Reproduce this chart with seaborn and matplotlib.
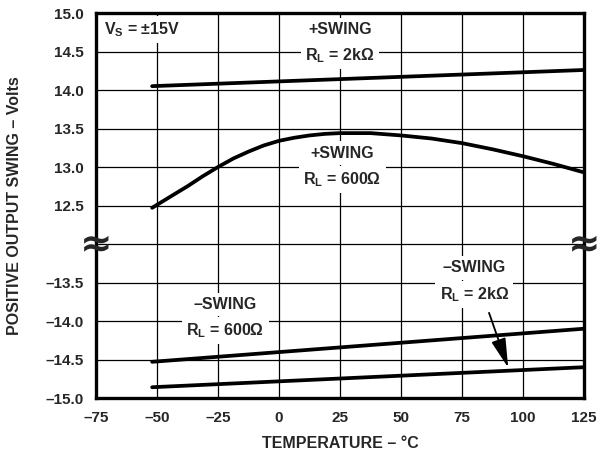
import matplotlib
matplotlib.use('Agg')
import matplotlib.pyplot as plt
import numpy as np
import pandas as pd
import seaborn as sns

# temperature axis, degrees C
temp = [-52, -43.75, -37.5, -31.25, -25, -18.75, -12.5, -6.25, 0, 6.25, 12.5, 18.75, 25,
        31.25, 37.5, 50, 62.5, 75, 87.5, 100, 112.5, 125]
pos_600 = [12.47, 12.63, 12.75, 12.88, 13.00, 13.11, 13.20, 13.28, 13.34, 13.38, 13.41, 13.43,
           13.44, 13.44, 13.44, 13.41, 13.37, 13.31, 13.23, 13.14, 13.04, 12.93]
temp_lin = [-52, 125]
pos_2k = [14.05, 14.26]
neg_600 = [-14.53, -14.10]
neg_2k = [-14.86, -14.60]

upper_ticks = [15.0, 14.5, 14.0, 13.5, 13.0, 12.5]
lower_ticks = [-13.5, -14.0, -14.5, -15.0]
x_ticks = [-75, -50, -25, 0, 25, 50, 75, 100, 125]

# lower (negative) half of the broken axis is shifted up onto the same scale
SHIFT = 25.0

sns.set_style('white')
plt.rcParams['font.family'] = ['Liberation Sans', 'DejaVu Sans']
plt.rcParams['font.weight'] = 'bold'
plt.rcParams['mathtext.fontset'] = 'custom'
plt.rcParams['mathtext.rm'] = 'Liberation Sans:bold'
plt.rcParams['mathtext.it'] = 'Liberation Sans:bold'
plt.rcParams['mathtext.bf'] = 'Liberation Sans:bold'

fig = plt.figure(figsize=(6.05, 4.53), dpi=100)
ax = fig.add_axes([0.1587, 0.1214, 0.8066, 0.8499])

curves = pd.concat([
    pd.DataFrame({'t': temp_lin, 'v': pos_2k, 'c': 'p2k'}),
    pd.DataFrame({'t': temp, 'v': pos_600, 'c': 'p600'}),
    pd.DataFrame({'t': temp_lin, 'v': np.array(neg_600) + SHIFT, 'c': 'n600'}),
    pd.DataFrame({'t': temp_lin, 'v': np.array(neg_2k) + SHIFT, 'c': 'n2k'}),
])
for name, grp in curves.groupby('c'):
    sns.lineplot(data=grp, x='t', y='v', ax=ax, color='black', linewidth=2.7,
                 sort=False, zorder=3, legend=False)

ax.set_xlim(-75, 125)
ax.set_ylim(10.0, 15.0)
ax.set_xticks(x_ticks)
ax.set_xticklabels([f'{t}'.replace('-', '–') for t in x_ticks])
yt = upper_ticks + [12.0] + [v + SHIFT for v in lower_ticks]
ax.set_yticks(yt)
ax.set_yticklabels([f'{v:.1f}' for v in upper_ticks] + [''] +
                   [f'{v:.1f}'.replace('-', '–') for v in lower_ticks])
ax.tick_params(length=0, labelsize=11, pad=9)
for lab in ax.get_xticklabels() + ax.get_yticklabels():
    lab.set_fontweight('bold')

ax.grid(True, color='black', linewidth=0.9)
ax.set_axisbelow(True)
for s in ax.spines.values():
    s.set_linewidth(2.4)
    s.set_color('black')

ax.set_xlabel('TEMPERATURE – °C', fontsize=11.5, fontweight='bold', labelpad=8)
ax.set_ylabel('POSITIVE OUTPUT SWING – Volts', fontsize=11.5, fontweight='bold', labelpad=17)

box = dict(facecolor='white', edgecolor='none', pad=3)
txt = dict(ha='center', va='center', fontsize=11.5, fontweight='bold', zorder=4, bbox=box)
ax.text(-56, 14.78, r'V$_S$ = ±15V', **txt)
ax.text(25, 14.78, '+SWING', **txt)
ax.text(25, 14.45, r'R$_L$ = 2kΩ', **txt)
ax.text(26, 13.18, '+SWING', **txt)
ax.text(26, 12.84, r'R$_L$ = 600Ω', **txt)
ax.text(-22, -13.79 + SHIFT, '–SWING', **txt)
ax.text(-22, -14.12 + SHIFT, r'R$_L$ = 600Ω', **txt)
ax.text(80, -13.31 + SHIFT, '–SWING', **txt)
ax.text(80, -13.66 + SHIFT, r'R$_L$ = 2kΩ', **txt)

ax.annotate('', xy=(94.3, -14.64 + SHIFT), xytext=(85.7, -13.86 + SHIFT),
            arrowprops=dict(arrowstyle='-|>,head_length=1.0,head_width=0.25',
                            color='black', lw=1.3, mutation_scale=18), zorder=4)

# axis break marks
for xb in (0.0, 1.0):
    ax.text(xb, 12.0, '≈', transform=ax.get_yaxis_transform(), ha='center',
            va='center', fontsize=28, fontweight='bold', clip_on=False,
            zorder=5, family='DejaVu Sans')

fig.savefig('out.png', dpi=100)
